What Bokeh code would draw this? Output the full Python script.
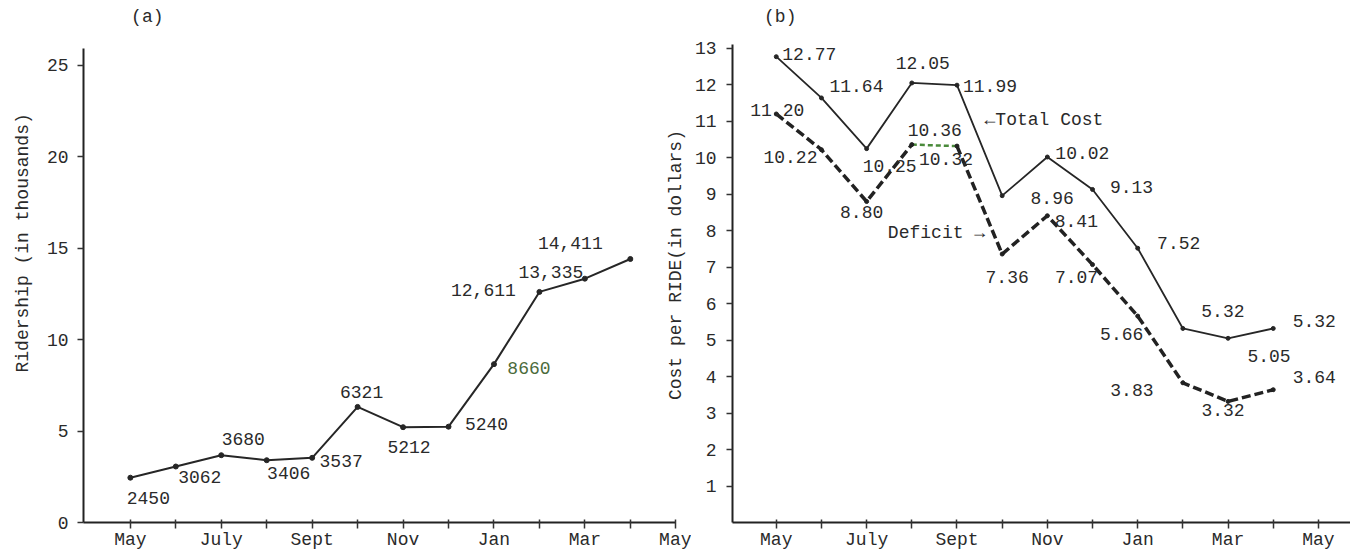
import math
from bokeh.plotting import figure
from bokeh.layouts import row
from bokeh.models import Range1d, FixedTicker, Label, ColumnDataSource, Title
from bokeh.core.properties import value
from bokeh.embed import file_html
from bokeh.resources import INLINE

# ---------------- data ----------------
months = ["May", "June", "July", "Aug", "Sept", "Oct", "Nov", "Dec", "Jan", "Feb", "Mar", "Apr", "May"]
month_tick_labels = ["May", "", "July", "", "Sept", "", "Nov", "", "Jan", "", "Mar", "", "May"]

ridership = [2450, 3062, 3680, 3406, 3537, 6321, 5212, 5240, 8660, 12611, 13335, 14411]
ridership_text = ["2450", "3062", "3680", "3406", "3537", "6321", "5212", "5240", "8660",
                  "12,611", "13,335", "14,411"]
ridership_ticks = [0, 5, 10, 15, 20, 25]

total_cost = [12.77, 11.64, 10.25, 12.05, 11.99, 8.96, 10.02, 9.13, 7.52, 5.32, 5.05, 5.32]
deficit = [11.20, 10.22, 8.80, 10.36, 10.32, 7.36, 8.41, 7.07, 5.66, 3.83, 3.32, 3.64]
cost_ticks = list(range(1, 14))

# label placement (pixel offsets from each point; dy positive = down)
rid_dx = [18, 24, 22, 22, 29, 4, 6, 38, 35, -56, -34, -60]
rid_dy = [20, 10, -16, 13, 3, -15, 20, -3, 4, -2, -7, -16]
rid_colors = ["#2a2a2a"] * 8 + ["#4b6b3b"] + ["#2a2a2a"] * 3
tot_dx = [33, 35, 23, 11, 33, 50, 35, 39, 41, 40, 41, 41]
tot_dy = [-3, -12, 17, -20, 1, 2, -4, -2, -5, -17, 18, -7]
def_dx = [1, -31, -5, 23, -11, 5, 29, -16, -16, -51, -5, 41]
def_dy = [-4, 7, 10, -15, 13, 23, 5, 12, 18, 7, 9, -13]

FONT = "Liberation Mono"
INK = "#2a2a2a"
FS = "18px"


def base_axes(p, xticks, yticks, xlabels):
    p.outline_line_color = None
    p.xgrid.visible = False
    p.ygrid.visible = False
    p.background_fill_color = "white"
    p.border_fill_color = "white"
    for ax in (p.xaxis[0], p.yaxis[0]):
        ax.axis_line_color = "#222222"
        ax.axis_line_width = 2
        ax.major_tick_line_color = "#333333"
        ax.major_tick_line_width = 1.5
        ax.minor_tick_line_color = None
        ax.major_label_text_font = FONT
        ax.major_label_text_font_size = FS
        ax.major_label_text_color = INK
    p.xaxis[0].ticker = FixedTicker(ticks=xticks)
    p.xaxis[0].major_label_overrides = {i: xlabels[i] for i in xticks}
    p.xaxis[0].major_tick_in = 3
    p.xaxis[0].major_tick_out = 6
    p.xaxis[0].major_label_standoff = 1
    p.yaxis[0].ticker = FixedTicker(ticks=yticks)
    p.yaxis[0].major_tick_in = 0
    p.yaxis[0].major_tick_out = 6


def corner_label(p, x, y, text):
    p.add_layout(Label(x=x, y=y, text=text, text_font=FONT, text_font_size=FS,
                       text_color=INK, text_align="center", text_baseline="middle"))


# ---------------- (a) ridership ----------------
xi = list(range(len(ridership)))
rid_k = [v / 1000 for v in ridership]

p1 = figure(width=691, height=552, x_range=Range1d(-1.031, 12.346), y_range=Range1d(0, 28.548),
            output_backend="svg", toolbar_location=None,
            min_border_left=81, min_border_right=0, min_border_top=0, min_border_bottom=29)
base_axes(p1, list(range(13)), ridership_ticks, month_tick_labels)
p1.xaxis[0].bounds = (-1.031, 12)
p1.yaxis[0].bounds = (0, 25.93)
p1.yaxis[0].major_label_standoff = 9

left_title = Title(text="Ridership (in thousands)", align="left", offset=150, standoff=21,
                   text_font=FONT, text_font_size=FS, text_font_style="normal", text_color=INK)
p1.add_layout(left_title, "left")
corner_label(p1, 0.373, 27.62, "(a)")

p1.line(xi, rid_k, line_width=2, color="#262626")
p1.scatter(xi, rid_k, size=5, color="#262626")
src1 = ColumnDataSource(dict(x=xi, y=rid_k, t=ridership_text, dx=rid_dx, dy=rid_dy, c=rid_colors))
p1.text("x", "y", text="t", x_offset="dx", y_offset="dy", text_color="c", source=src1,
        text_font=value(FONT), text_font_size=FS, text_align="center", text_baseline="middle")

# y-axis title of panel (b), which sits just left of that panel's tick labels
p1.text(x=[12.0], y=[14.08], text=["Cost per RIDE(in dollars)"], angle=math.pi / 2,
        text_font=value(FONT), text_font_size=FS, text_color=INK,
        text_align="center", text_baseline="middle")

# ---------------- (b) cost per ride ----------------
xc = list(range(len(total_cost)))
p2 = figure(width=659, height=552, x_range=Range1d(-0.969, 12.71), y_range=Range1d(0, 14.311),
            output_backend="svg", toolbar_location=None,
            min_border_left=38, min_border_right=0, min_border_top=0, min_border_bottom=28)
base_axes(p2, list(range(13)), cost_ticks, month_tick_labels)
p2.yaxis[0].bounds = (0, 13.11)
p2.yaxis[0].major_label_standoff = 10
corner_label(p2, 0.088, 13.85, "(b)")

p2.line(xc, total_cost, line_width=1.8, color="#262626")
p2.scatter(xc, total_cost, size=4, color="#262626")
p2.line(xc[:4], deficit[:4], line_width=3.5, color="#222222", line_dash="9 4")
p2.line(xc[4:], deficit[4:], line_width=3.5, color="#222222", line_dash="9 4")
p2.line(xc[3:5], deficit[3:5], line_width=2.5, color="#4a8a3a", line_dash="5 3")
p2.scatter(xc, deficit, size=4, color="#222222")

src2 = ColumnDataSource(dict(x=xc, y=total_cost, t=[f"{v:.2f}" for v in total_cost],
                             dx=tot_dx, dy=tot_dy))
p2.text("x", "y", text="t", x_offset="dx", y_offset="dy", source=src2, text_color=INK,
        text_font=value(FONT), text_font_size=FS, text_align="center", text_baseline="middle")
src3 = ColumnDataSource(dict(x=xc, y=deficit, t=[f"{v:.2f}" for v in deficit],
                             dx=def_dx, dy=def_dy))
p2.text("x", "y", text="t", x_offset="dx", y_offset="dy", source=src3, text_color=INK,
        text_font=value(FONT), text_font_size=FS, text_align="center", text_baseline="middle")

corner_label(p2, 5.925, 11.03, "\u2190Total Cost")
corner_label(p2, 3.546, 7.95, "Deficit \u2192")

layout = row(p1, p2)
open("out.html", "w").write(file_html(layout, INLINE))
